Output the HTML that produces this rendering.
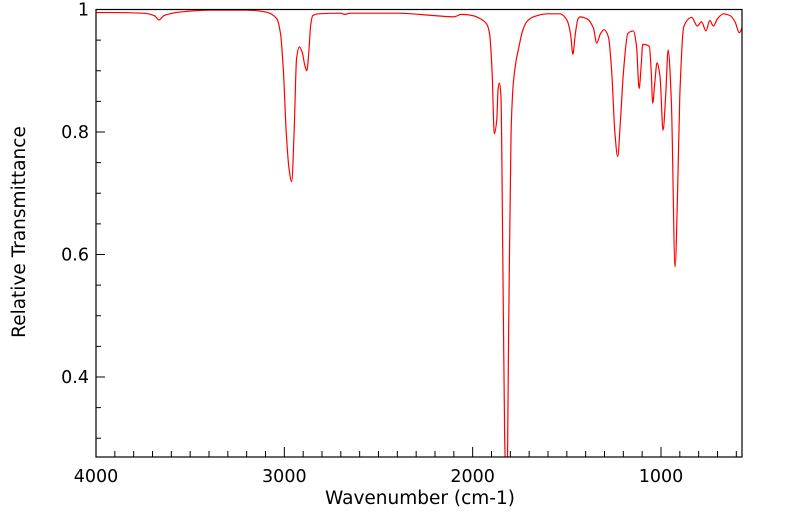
<!DOCTYPE html>
<html><head><meta charset="utf-8"><style>
body{margin:0;background:#fff;}
svg{display:block;font-family:"DejaVu Sans","Liberation Sans",sans-serif;}
</style></head><body>
<svg id="chart" width="799" height="516" viewBox="0 0 799 516">
<rect x="0" y="0" width="799" height="516" fill="#fff"/>
<g id="ticks"></g>
<path id="spectrum" fill="none" stroke="#ff0000" stroke-width="1.2" stroke-linejoin="round"/>
<rect x="96" y="9.5" width="646" height="447.5" fill="none" stroke="#000" stroke-width="1.2"/>
<text x="420" y="504" font-size="18.5" text-anchor="middle">Wavenumber (cm-1)</text>
<text transform="translate(25,232) rotate(-90)" font-size="18.5" text-anchor="middle">Relative Transmittance</text>
</svg>
<script>
const wavenumbers=[4000,3900,3750,3690,3665,3640,3550,3400,3200,3100,3040,3020,3005,2990,2975,2961,2948,2935,2920,2905,2892,2881,2870,2860,2849,2820,2700,2678,2650,2400,2200,2100,2060,2000,1960,1925,1910,1897,1885,1872,1865,1858,1850,1840,1830,1819,1808,1796,1784,1770,1757,1735,1713,1677,1606,1536,1500,1480,1468,1455,1440,1430,1394,1359,1341,1322,1302,1279,1262,1245,1230,1215,1200,1176,1147,1130,1116,1105,1097,1062,1052,1044,1033,1021,1005,989,975,962,945,925,912,900,879,837,807,785,761,741,722,700,669,633,607,584,566];
const transmittance=[0.995,0.995,0.994,0.99,0.983,0.99,0.996,0.999,0.999,0.996,0.985,0.96,0.9,0.8,0.74,0.719,0.8,0.92,0.939,0.93,0.91,0.90,0.93,0.975,0.99,0.993,0.994,0.992,0.994,0.994,0.99,0.988,0.992,0.99,0.985,0.976,0.96,0.9,0.797,0.82,0.87,0.88,0.86,0.6,0.3,0.2,0.5,0.8,0.88,0.915,0.935,0.965,0.98,0.988,0.993,0.993,0.983,0.96,0.927,0.96,0.985,0.988,0.985,0.97,0.945,0.96,0.967,0.955,0.9,0.8,0.76,0.82,0.895,0.961,0.965,0.94,0.871,0.91,0.943,0.94,0.9,0.847,0.88,0.913,0.89,0.803,0.86,0.934,0.85,0.58,0.7,0.86,0.972,0.987,0.973,0.98,0.965,0.982,0.973,0.985,0.993,0.99,0.98,0.962,0.973];
const yMajorTicks=[0.4,0.6,0.8,1];
const yMajorLabels=["0.4","0.6","0.8","1"];
const xMajorTicks=[4000,3000,2000,1000];
const xMajorLabels=["4000","3000","2000","1000"];

const L=96,R=742,T=9.5,B=457;
function xs(w){return L+(4000-w)*0.18833;}
function ys(v){return T+(1-v)*612.5;}

// monotone cubic (Fritsch-Carlson) path through points
const px=wavenumbers.map(xs), py=transmittance.map(ys);
const n=px.length, dk=[], m=[];
for(let i=0;i<n-1;i++) dk.push((py[i+1]-py[i])/(px[i+1]-px[i]));
m[0]=dk[0]; m[n-1]=dk[n-2];
for(let i=1;i<n-1;i++){
  if(dk[i-1]*dk[i]<=0) m[i]=0;
  else { const h0=px[i]-px[i-1], h1=px[i+1]-px[i];
    const w1=2*h1+h0, w2=h1+2*h0;
    m[i]=(w1+w2)/(w1/dk[i-1]+w2/dk[i]); }
}
let d="M"+px[0].toFixed(2)+","+py[0].toFixed(2);
for(let i=0;i<n-1;i++){
  const h=px[i+1]-px[i];
  d+="C"+(px[i]+h/3).toFixed(2)+","+(py[i]+m[i]*h/3).toFixed(2)+" "+
     (px[i+1]-h/3).toFixed(2)+","+(py[i+1]-m[i+1]*h/3).toFixed(2)+" "+
     px[i+1].toFixed(2)+","+py[i+1].toFixed(2);
}
const sp=document.getElementById('spectrum');
sp.setAttribute('d',d);
const NS="http://www.w3.org/2000/svg";
const svg=document.getElementById('chart');
const cp=document.createElementNS(NS,'clipPath'); cp.setAttribute('id','plotclip');
const cr=document.createElementNS(NS,'rect');
cr.setAttribute('x',L);cr.setAttribute('y',T);cr.setAttribute('width',R-L);cr.setAttribute('height',B-T);
cp.appendChild(cr); svg.insertBefore(cp,svg.firstChild);
sp.setAttribute('clip-path','url(#plotclip)');

const g=document.getElementById('ticks');
function line(x1,y1,x2,y2,name){
  const l=document.createElementNS(NS,'line');
  l.setAttribute('x1',x1);l.setAttribute('y1',y1);l.setAttribute('x2',x2);l.setAttribute('y2',y2);
  l.setAttribute('stroke','#000');l.setAttribute('stroke-width','1');
  
  
  g.appendChild(l);
}
function label(x,y,txt,anchor,name){
  const t=document.createElementNS(NS,'text');
  t.setAttribute('x',x);t.setAttribute('y',y);t.setAttribute('font-size','17.5');
  t.setAttribute('text-anchor',anchor);t.textContent=txt;
  
  
  g.appendChild(t);
}
for(let k=6;k<=20;k++){
  const v=k*0.05; const y=ys(v);
  if(y<T-0.5||y>B)continue;
  const major=(k%4===0);
  line(L,y,L+(major?9:5),y,'y-tick');
}
yMajorTicks.forEach((v,i)=>{
  label(L-7,ys(v)+6,yMajorLabels[i],'end','y-tick-label');
});
for(let w=4000;w>=600;w-=100){
  const x=xs(w); if(x>R)continue;
  const major=(w%1000===0);
  line(x,B,x,B-(major?10:6),'x-tick');
}
xMajorTicks.forEach((w,i)=>{
  label(xs(w),482,xMajorLabels[i],'middle','x-tick-label');
});
</script>
</body></html>
